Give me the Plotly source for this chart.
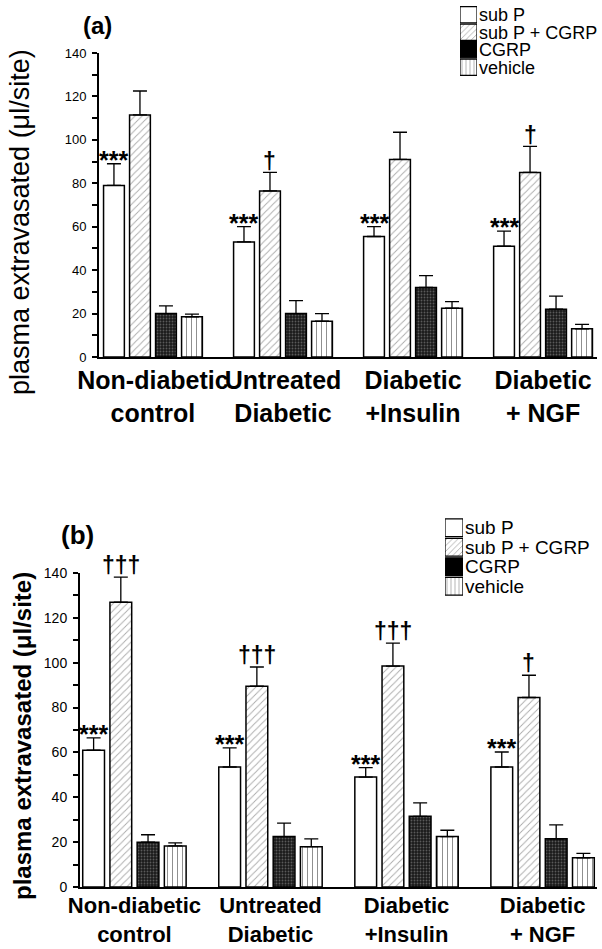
import plotly.graph_objects as go

# ---- data -----------------------------------------------------------------
series = ["sub P", "sub P + CGRP", "CGRP", "vehicle"]
groups = ["Non-diabetic<br>control", "Untreated<br>Diabetic",
          "Diabetic<br>+Insulin", "Diabetic<br>+ NGF"]

# panel (a)
a_subp = [79, 53, 55.5, 51]
a_subp_err = [10, 7, 4.5, 7]
a_subp_cgrp = [111.5, 76.5, 91, 85]
a_subp_cgrp_err = [11, 8.5, 12.5, 12]
a_cgrp = [20, 20, 32, 22]
a_cgrp_err = [3.5, 6, 5.5, 6]
a_vehicle = [18.5, 16.5, 22.5, 13]
a_vehicle_err = [1.2, 3.5, 3, 2]
a_stars = ["***", "***", "***", "***"]
a_daggers = ["", "†", "", "†"]

# panel (b)
b_subp = [61, 53.5, 49, 53.5]
b_subp_err = [5.5, 8.5, 4.2, 6.7]
b_subp_cgrp = [127, 89.5, 98.5, 84.5]
b_subp_cgrp_err = [11.2, 8.6, 10.2, 9.9]
b_cgrp = [20, 22.5, 31.5, 21.5]
b_cgrp_err = [3.3, 6, 6, 6.2]
b_vehicle = [18.3, 18, 22.5, 13]
b_vehicle_err = [1.4, 3.5, 2.8, 2]
b_stars = ["***", "***", "***", "***"]
b_daggers = ["†††", "†††", "†††", "†"]

yticks = [0, 20, 40, 60, 80, 100, 120, 140]

# ---- styling ----------------------------------------------------------------
FONT = "Liberation Sans, Arial, sans-serif"
W, H = 602, 949

styles = [
    dict(color="white"),
    dict(color="white", pattern=dict(shape="/", fgcolor="#555", bgcolor="white",
                                     size=5, solidity=0.18)),
    dict(color="#1a1a1a", pattern=dict(shape=".", fgcolor="#9a9a9a", bgcolor="#1a1a1a",
                                       size=3, solidity=0.3)),
    dict(color="white", pattern=dict(shape="|", fgcolor="#222", bgcolor="white",
                                     size=5, solidity=0.2)),
]

def px_x(p):
    return p / W

def px_y(p):
    return 1 - p / H

positions = list(range(len(groups)))
BARGAP = 0.2
n_series = len(series)
slot = (1 - BARGAP) / n_series
offsets = [-(1 - BARGAP) / 2 + slot * (i + 0.5) for i in range(n_series)]

fig = go.Figure()

def add_panel(vals, errs, xa, ya):
    for i, (name, v, e) in enumerate(zip(series, vals, errs)):
        fig.add_trace(go.Bar(
            x=positions, y=v, name=name, showlegend=False,
            xaxis=xa, yaxis=ya,
            marker=dict(line=dict(color="black", width=1.5), **styles[i]),
            error_y=dict(type="data", symmetric=False, array=e,
                         arrayminus=[0] * len(e), color="black",
                         thickness=1.3, width=7),
        ))

add_panel([a_subp, a_subp_cgrp, a_cgrp, a_vehicle],
          [a_subp_err, a_subp_cgrp_err, a_cgrp_err, a_vehicle_err], "x", "y")
add_panel([b_subp, b_subp_cgrp, b_cgrp, b_vehicle],
          [b_subp_err, b_subp_cgrp_err, b_cgrp_err, b_vehicle_err], "x2", "y2")

# significance marks above the bars
def add_marks(marks, vals, errs, series_idx, xref, yref, size, shift):
    for g, (m, v, e) in enumerate(zip(marks, vals, errs)):
        if not m:
            continue
        fig.add_annotation(x=positions[g] + offsets[series_idx], y=v + e,
                           xref=xref, yref=yref, text=m, showarrow=False,
                           xanchor="center", yanchor="middle", yshift=shift,
                           font=dict(family=FONT, size=size, color="black", weight="bold"))

add_marks(a_stars, a_subp, a_subp_err, 0, "x", "y", 25, 4)
add_marks(a_daggers, a_subp_cgrp, a_subp_cgrp_err, 1, "x", "y", 23, 11)
add_marks(b_stars, b_subp, b_subp_err, 0, "x2", "y2", 25, 4)
add_marks(b_daggers, b_subp_cgrp, b_subp_cgrp_err, 1, "x2", "y2", 23, 12)

# legend swatches: a short horizontal bar per series
leg_colors = ["white", "white", "black", "white"]
leg_shapes = ["", "/", "", "|"]
for xa, ya in (("x3", "y3"), ("x4", "y4")):
    fig.add_trace(go.Bar(
        x=[1] * n_series, y=series, orientation="h", width=0.92,
        xaxis=xa, yaxis=ya, showlegend=False, hoverinfo="skip",
        marker=dict(color=leg_colors, line=dict(color="black", width=1.2),
                    pattern=dict(shape=leg_shapes, fgcolor="#444", size=4,
                                 solidity=0.2)),
    ))

yaxis_common = dict(
    range=[0, 140], tickvals=yticks, showline=True, linewidth=2, linecolor="black",
    ticks="outside", ticklen=5, tickwidth=1.5, tickcolor="black",
    minor=dict(dtick=10, ticks="outside", ticklen=5, tickwidth=1.5, tickcolor="black"),
    showgrid=False, zeroline=False, ticklabelstandoff=3, automargin=False,
)
xaxis_common = dict(
    tickmode="array", tickvals=positions, ticktext=groups, tickangle=0,
    showline=True, linewidth=2, linecolor="black", ticks="", showgrid=False,
    zeroline=False, automargin=False,
)
legend_axis = dict(
    type="category", tickmode="array", tickvals=series, ticktext=series,
    autorange="reversed", side="right", showline=False, ticks="",
    showgrid=False, ticklabelstandoff=1, automargin=False, fixedrange=True,
)

fig.update_layout(
    width=W, height=H, margin=dict(l=0, r=0, t=0, b=0, autoexpand=False),
    paper_bgcolor="white", plot_bgcolor="white",
    barmode="group", bargap=BARGAP, bargroupgap=0.2,
    font=dict(family=FONT, color="black"),
    xaxis=dict(domain=[px_x(99), px_x(597)], range=[-0.415, 3.415], anchor="y",
               tickfont=dict(size=25, weight="bold"), ticklabelstandoff=0,
               **xaxis_common),
    yaxis=dict(domain=[px_y(357), px_y(53)], anchor="x",
               tickfont=dict(size=13), **yaxis_common),
    xaxis2=dict(domain=[px_x(80), px_x(597)], range=[-0.40, 3.40], anchor="y2",
                tickfont=dict(size=22, weight="bold"), ticklabelstandoff=-2,
                **xaxis_common),
    yaxis2=dict(domain=[px_y(887), px_y(573)], anchor="x2",
                tickfont=dict(size=14), **yaxis_common),
    xaxis3=dict(domain=[px_x(460), px_x(477)], range=[0, 1], anchor="y3",
                visible=False, fixedrange=True),
    yaxis3=dict(domain=[px_y(76), px_y(6)], anchor="x3",
                tickfont=dict(size=18), **legend_axis),
    xaxis4=dict(domain=[px_x(445), px_x(463)], range=[0, 1], anchor="y4",
                visible=False, fixedrange=True),
    yaxis4=dict(domain=[px_y(596), px_y(518)], anchor="x4",
                tickfont=dict(size=19), **legend_axis),
)

# panel letters and y-axis titles
def paper_text(x, y, text, size, bold, angle=0):
    fig.add_annotation(x=px_x(x), y=px_y(y), xref="paper", yref="paper",
                       text=text, textangle=angle, showarrow=False,
                       xanchor="center", yanchor="middle",
                       font=dict(size=size, weight="bold" if bold else "normal"))

paper_text(97, 25, "(a)", 24, True)
paper_text(77, 535, "(b)", 26, True)
paper_text(20, 222, "plasma extravasated (μl/site)", 27, False, -90)
paper_text(22, 736, "plasma extravasated (μl/site)", 24, True, -90)

fig.write_html("out.html")
